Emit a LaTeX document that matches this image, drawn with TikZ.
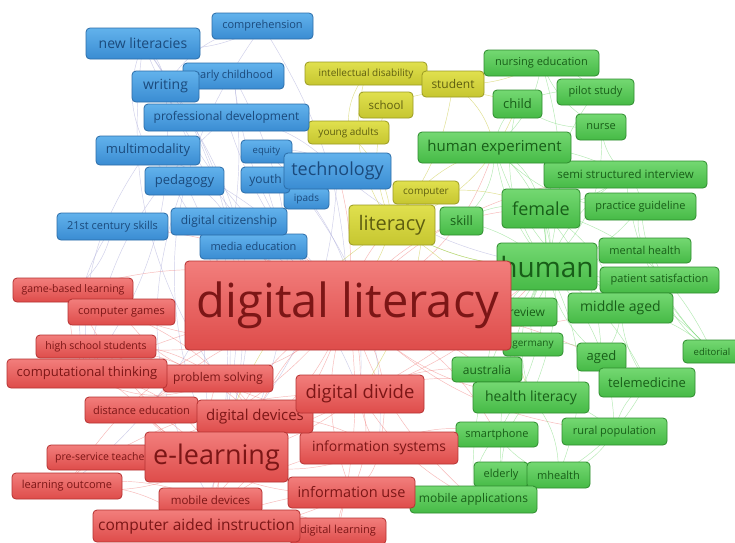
\documentclass[tikz,border=0pt]{standalone}
\usepackage{fontspec}
\setmainfont{Open Sans}
\usepackage{tikz}
\usetikzlibrary{shapes}
\usetikzlibrary{backgrounds}
\definecolor{blT}{HTML}{62B2EC}
\definecolor{blB}{HTML}{3A8CD2}
\definecolor{blD}{HTML}{2C6DA8}
\definecolor{blX}{HTML}{1B4A7C}
\definecolor{rdT}{HTML}{F27E7C}
\definecolor{rdB}{HTML}{DE4C4A}
\definecolor{rdD}{HTML}{B53232}
\definecolor{rdX}{HTML}{7C1616}
\definecolor{grT}{HTML}{74D872}
\definecolor{grB}{HTML}{46BA46}
\definecolor{grD}{HTML}{2E8C2E}
\definecolor{grX}{HTML}{185E18}
\definecolor{ylT}{HTML}{E0E04E}
\definecolor{ylB}{HTML}{C6C630}
\definecolor{ylD}{HTML}{9A9A22}
\definecolor{ylX}{HTML}{5E5E10}
\definecolor{lav}{HTML}{A8A8D8}
\newcommand{\fz}[1]{\fontsize{#1}{#1}\selectfont}
\tikzstyle{kw}=[rounded corners=4pt, inner sep=0pt, line width=0.8pt]
\tikzstyle{bl}=[kw, top color=blT, bottom color=blB, draw=blD, text=blX]
\tikzstyle{rd}=[kw, top color=rdT, bottom color=rdB, draw=rdD, text=rdX]
\tikzstyle{gr}=[kw, top color=grT, bottom color=grB, draw=grD, text=grX]
\tikzstyle{yl}=[kw, top color=ylT, bottom color=ylB, draw=ylD, text=ylX]
\tikzstyle{le}=[line width=0.45pt, opacity=0.55]

\begin{document}
\begin{tikzpicture}
 [x=1pt, y=-1pt]
 \useasboundingbox (0,0) rectangle (735,542);
 % small labels first, the big ones end up on top
 \node[bl, minimum width=51pt, minimum height=23pt, font=\fz{9.5}] (equity) at (266.5,151.5) {equity};
 \node[gr, minimum width=58pt, minimum height=23pt, font=\fz{9.5}] (editorial) at (712,351.5) {editorial};
 \node[bl, minimum width=45pt, minimum height=21pt, font=\fz{10}] (ipads) at (306.5,198.5) {ipads};
 \node[yl, minimum width=122pt, minimum height=23pt, font=\fz{10}] (intdis) at (366,73.5) {intellectual disability};
 \node[yl, minimum width=81pt, minimum height=23pt, font=\fz{10}] (youngad) at (348.5,132.5) {young adults};
 \node[yl, minimum width=66pt, minimum height=23pt, font=\fz{10}] (computer) at (426,192.5) {computer};
 \node[gr, minimum width=60pt, minimum height=23pt, font=\fz{10}] (germany) at (533,344.5) {germany};
 \node[rd, minimum width=120pt, minimum height=24pt, font=\fz{10.5}] (gamebased) at (73,290) {game-based learning};
 \node[rd, minimum width=120pt, minimum height=23pt, font=\fz{10.5}] (highschool) at (96,346.5) {high school students};
 \node[rd, minimum width=115pt, minimum height=25pt, font=\fz{10.5}] (preserv) at (104.5,457.5) {pre-service teachers};
 \node[bl, minimum width=101pt, minimum height=26pt, font=\fz{11}] (compr) at (262.5,26) {comprehension};
 \node[bl, minimum width=101pt, minimum height=26pt, font=\fz{11}] (earlychild) at (233.5,76) {early childhood};
 \node[bl, minimum width=111pt, minimum height=27pt, font=\fz{11}] (skills) at (112.5,226.5) {21st century skills};
 \node[bl, minimum width=107pt, minimum height=25pt, font=\fz{11}] (mediaedu) at (253.5,246.5) {media education};
 \node[yl, minimum width=54pt, minimum height=26pt, font=\fz{11.5}] (school) at (386,105) {school};
 \node[gr, minimum width=115pt, minimum height=26pt, font=\fz{11}] (nursedu) at (541.5,63) {nursing education};
 \node[gr, minimum width=77pt, minimum height=26pt, font=\fz{11}] (pilot) at (595.5,92) {pilot study};
 \node[gr, minimum width=50pt, minimum height=26pt, font=\fz{11}] (nurse) at (601,127) {nurse};
 \node[gr, minimum width=163pt, minimum height=27pt, font=\fz{11.5}] (semi) at (625.5,174.5) {semi structured interview};
 \node[gr, minimum width=111pt, minimum height=27pt, font=\fz{11}] (practice) at (640.5,206.5) {practice guideline};
 \node[gr, minimum width=92pt, minimum height=25pt, font=\fz{11}] (mental) at (645,250.5) {mental health};
 \node[gr, minimum width=119pt, minimum height=26pt, font=\fz{11}] (patient) at (659.5,280) {patient satisfaction};
 \node[gr, minimum width=82pt, minimum height=25pt, font=\fz{11}] (smartphone) at (497,434.5) {smartphone};
 \node[gr, minimum width=105pt, minimum height=27pt, font=\fz{11}] (rural) at (614.5,431.5) {rural population};
 \node[gr, minimum width=54pt, minimum height=25pt, font=\fz{11}] (elderly) at (501,474.5) {elderly};
 \node[gr, minimum width=63pt, minimum height=26pt, font=\fz{11}] (mhealth) at (558.5,475) {mhealth};
 \node[rd, minimum width=107pt, minimum height=26pt, font=\fz{11}] (compgames) at (121.5,312) {computer games};
 \node[rd, minimum width=113pt, minimum height=26pt, font=\fz{11}] (distance) at (141.5,410) {distance education};
 \node[rd, minimum width=110pt, minimum height=26pt, font=\fz{11}] (learnout) at (67,486) {learning outcome};
 \node[rd, minimum width=103pt, minimum height=25pt, font=\fz{11.5}] (mobdev) at (210.5,500.5) {mobile devices};
 \node[rd, minimum width=96pt, minimum height=26pt, font=\fz{11}] (diglearn) at (338,531) {digital learning};
 \node[bl, minimum width=165pt, minimum height=27pt, font=\fz{12}] (profdev) at (226.5,117.5) {professional development};
 \node[bl, minimum width=49pt, minimum height=26pt, font=\fz{12}] (youth) at (265.5,180) {youth};
 \node[bl, minimum width=116pt, minimum height=27pt, font=\fz{12}] (digcit) at (229,221.5) {digital citizenship};
 \node[yl, minimum width=62pt, minimum height=26pt, font=\fz{12}] (student) at (453,84) {student};
 \node[gr, minimum width=70pt, minimum height=25pt, font=\fz{12}] (australia) at (487,369.5) {australia};
 \node[gr, minimum width=60pt, minimum height=28pt, font=\fz{12}] (review) at (527,312) {review};
 \node[gr, minimum width=127pt, minimum height=27pt, font=\fz{12}] (mobapp) at (473.5,499.5) {mobile applications};
 \node[rd, minimum width=110pt, minimum height=27pt, font=\fz{12}] (problem) at (218,378.5) {problem solving};
 \node[bl, minimum width=104pt, minimum height=29pt, font=\fz{13}] (multimod) at (148,150.5) {multimodality};
 \node[bl, minimum width=79pt, minimum height=28pt, font=\fz{13}] (pedagogy) at (184.5,181) {pedagogy};
 \node[gr, minimum width=43pt, minimum height=28pt, font=\fz{13}] (skill) at (461.5,221) {skill};
 \node[gr, minimum width=49pt, minimum height=28pt, font=\fz{13}] (child) at (517.5,104) {child};
 \node[gr, minimum width=49pt, minimum height=28pt, font=\fz{13}] (aged) at (601.5,357) {aged};
 \node[gr, minimum width=96pt, minimum height=29pt, font=\fz{13}] (telemed) at (647,382.5) {telemedicine};
 \node[rd, minimum width=160pt, minimum height=29pt, font=\fz{13}] (comput) at (87,373.5) {computational thinking};
 \node[bl, minimum width=114pt, minimum height=31pt, font=\fz{14}] (newlit) at (143,43.5) {new literacies};
 \node[bl, minimum width=67pt, minimum height=31pt, font=\fz{14}] (writing) at (165.5,86.5) {writing};
 \node[gr, minimum width=105pt, minimum height=30pt, font=\fz{14}] (middle) at (620.5,308) {middle aged};
 \node[gr, minimum width=116pt, minimum height=31pt, font=\fz{14}] (healthlit) at (531,397.5) {health literacy};
 \node[rd, minimum width=158pt, minimum height=32pt, font=\fz{14}] (infosys) at (379,448) {information systems};
 \node[rd, minimum width=127pt, minimum height=31pt, font=\fz{14.5}] (infouse) at (351.5,492.5) {information use};
 \node[gr, minimum width=153pt, minimum height=31pt, font=\fz{15}] (humexp) at (494.5,147.5) {human experiment};
 \node[rd, minimum width=116pt, minimum height=33pt, font=\fz{15}] (digdev) at (255,416.5) {digital devices};
 \node[rd, minimum width=207pt, minimum height=32pt, font=\fz{15.5}] (cai) at (196.5,526) {computer aided instruction};
 \node[bl, minimum width=107pt, minimum height=36pt, font=\fz{18}] (technology) at (337.5,171) {technology};
 \node[gr, minimum width=78pt, minimum height=39pt, font=\fz{18}] (female) at (541,208.5) {female};
 \node[rd, minimum width=128pt, minimum height=38pt, font=\fz{18.5}] (digdivide) at (360,394) {digital divide};
 \node[yl, minimum width=86pt, minimum height=40pt, font=\fz{20}] (literacy) at (392,225) {literacy};
 \node[gr, minimum width=100pt, minimum height=47pt, font=\fz{28}] (human) at (547,266.5) {human};
 \node[rd, minimum width=143pt, minimum height=50pt, font=\fz{27}] (elearning) at (216.5,457) {e-learning};
 \node[rd, minimum width=326pt, minimum height=89pt, font=\fz{47}] (diglit) at (348,305.5) {digital literacy};

 % links behind the labels
 \begin{pgfonlayer}{background}
 \fill[white] (0,0) rectangle (735,542);
 \foreach \na/\nb/\bd in {diglit/elearning/20, diglit/digdev/-15, diglit/digdivide/10, diglit/infosys/25,
   diglit/infouse/-20, diglit/cai/15, diglit/mobdev/-25, diglit/problem/20, diglit/comput/-10,
   diglit/highschool/15, diglit/gamebased/-20, diglit/compgames/25, diglit/distance/-15, diglit/preserv/20,
   diglit/learnout/-25, diglit/diglearn/10, diglit/human/15, diglit/healthlit/-20, diglit/female/25,
   diglit/mobapp/-15, diglit/smartphone/20, diglit/technology/-10, diglit/literacy/15, diglit/digcit/-20,
   diglit/mediaedu/20, diglit/skills/-15, diglit/australia/10, diglit/humexp/-25, diglit/semi/20,
   diglit/middle/-15, diglit/telemed/15, diglit/rural/-20, elearning/cai/30, elearning/infosys/-20,
   elearning/mobdev/25, elearning/digdivide/-15, elearning/learnout/20, elearning/comput/-25,
   elearning/distance/15, digdivide/infouse/20, digdivide/infosys/-15, digdivide/healthlit/20,
   digdivide/human/-15, digdivide/problem/25, comput/problem/-30, comput/gamebased/20,
   comput/highschool/-20, infouse/mobapp/15, infosys/cai/-20, digdev/mobdev/20, digdev/compgames/-15,
   cai/learnout/-20, cai/diglearn/25, problem/compgames/20, gamebased/elearning/-15,
   highschool/digdev/20, distance/infouse/-25, preserv/digdivide/15, elearning/problem/20,
   elearning/digdev/-25, digdev/infosys/15, digdev/problem/-20, cai/mobdev/20, cai/infouse/-15,
   infosys/infouse/25, problem/distance/-20, comput/distance/15, compgames/gamebased/-25,
   highschool/problem/20, preserv/learnout/-20, learnout/mobdev/15, distance/elearning/-20,
   diglearn/infouse/20, digdivide/mobapp/-15, infosys/smartphone/20, infouse/elderly/-20,
   digdivide/australia/15, elearning/human/-10, cai/mobapp/15}
   \draw[le, rdT] (\na.center) to[bend left=\bd] (\nb.center);
 \foreach \na/\nb/\bd in {human/humexp/15, human/female/-20, human/child/25, human/nursedu/-15,
   human/pilot/20, human/nurse/-25, human/semi/15, human/practice/-20, human/mental/20,
   human/patient/-15, human/middle/25, human/aged/-20, human/telemed/15, human/healthlit/-25,
   human/rural/20, human/elderly/-15, human/mhealth/25, human/mobapp/-20, human/smartphone/15,
   human/australia/-25, human/editorial/20, human/skill/-15, human/review/25, human/germany/-20,
   human/literacy/15, female/middle/20, female/humexp/-25, female/aged/20, female/semi/-15,
   female/editorial/25, humexp/child/20, humexp/nursedu/-20, humexp/semi/15, humexp/practice/-25,
   middle/aged/20, middle/telemed/-15, healthlit/mhealth/20, healthlit/elderly/-20,
   healthlit/australia/25, telemed/rural/-20, telemed/mhealth/15, mobapp/smartphone/20,
   patient/mental/-30, semi/nurse/20, practice/editorial/-20, child/pilot/15, nursedu/nurse/-20,
   skill/female/20, skill/humexp/-25, editorial/patient/20, human/humexp/-25, female/healthlit/20,
   humexp/middle/-20, semi/practice/25, practice/mental/-20, middle/patient/20, aged/telemed/-25,
   healthlit/rural/20, smartphone/mhealth/-20, elderly/mobapp/25, child/nurse/-20,
   nursedu/pilot/20, review/female/-20, germany/aged/20, editorial/middle/-15, rural/mhealth/20,
   semi/editorial/-20}
   \draw[le, grT] (\na.center) to[bend left=\bd] (\nb.center);
 \foreach \na/\nb/\bd in {newlit/elearning/25, newlit/diglit/-15, newlit/cai/30, writing/comput/20,
   writing/diglit/-20, compr/diglit/15, compr/writing/-25, multimod/comput/-20, multimod/diglit/15,
   pedagogy/elearning/20, pedagogy/mobdev/-25, profdev/diglit/-15, profdev/technology/20,
   earlychild/learnout/30, earlychild/diglit/-20, skills/gamebased/20, skills/comput/-25,
   technology/digcit/20, technology/equity/-25, technology/ipads/30, digcit/mediaedu/-20,
   mediaedu/digdivide/15, youth/diglit/-20, equity/digdivide/25, newlit/writing/20,
   newlit/multimod/-25, compr/newlit/20, technology/human/-15, technology/elearning/20,
   digcit/elearning/-15, ipads/infosys/20, compr/elearning/-30, earlychild/digdev/25,
   newlit/problem/-20, writing/elearning/30, profdev/comput/-20, multimod/elearning/25,
   pedagogy/digcit/20}
   \draw[le, lav] (\na.center) to[bend left=\bd] (\nb.center);
 \foreach \na/\nb/\bd in {literacy/school/20, literacy/student/-15, literacy/intdis/25,
   literacy/youngad/-20, literacy/computer/15, literacy/human/-15, literacy/humexp/20,
   literacy/child/-25, literacy/diglit/10, literacy/healthlit/20, student/nursedu/-15,
   school/child/20, intdis/youngad/-20, computer/female/15, student/humexp/20,
   literacy/elearning/-20, computer/digdivide/15}
   \draw[le, ylB] (\na.center) to[bend left=\bd] (\nb.center);
 \end{pgfonlayer}
\end{tikzpicture}
\end{document}
